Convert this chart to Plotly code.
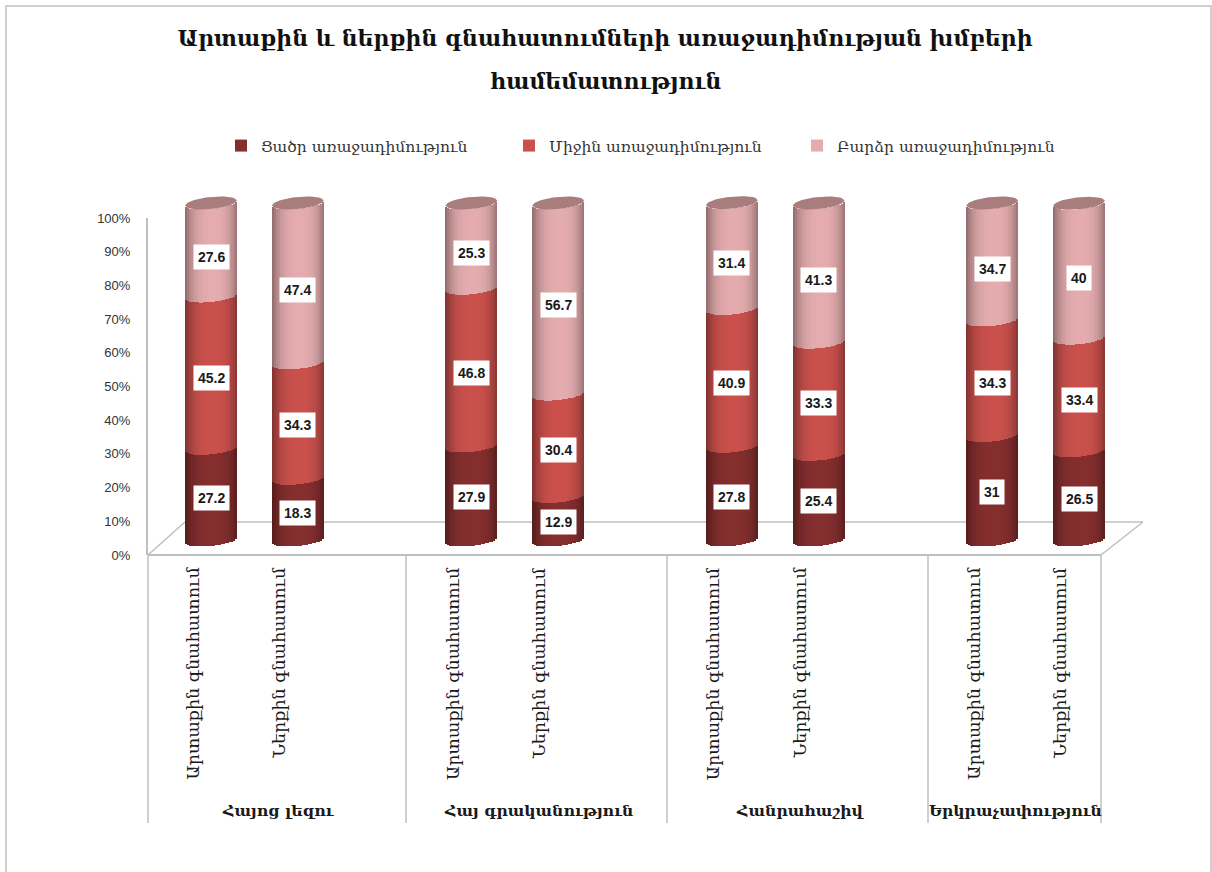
import math
import plotly.graph_objects as go

TITLE_1 = "Արտաքին և ներքին գնահատումների առաջադիմության խմբերի"
TITLE_2 = "համեմատություն"
SERIES = ["Ցածր առաջադիմություն", "Միջին առաջադիմություն", "Բարձր առաջադիմություն"]
GROUPS = ["Հայոց լեզու", "Հայ գրականություն", "Հանրահաշիվ", "Երկրաչափություն"]
ITEMS = ["Արտաքին գնահատում", "Ներքին գնահատում"]
low = [27.2, 18.3, 27.9, 12.9, 27.8, 25.4, 31, 26.5]
mid = [45.2, 34.3, 46.8, 30.4, 40.9, 33.3, 34.3, 33.4]
high = [27.6, 47.4, 25.3, 56.7, 31.4, 41.3, 34.7, 40]
COLORS = [(133, 46, 46), (202, 80, 76), (228, 172, 174)]
CAP = "#a97d7d"
GREY = "#bfbfbf"
FONT = "DejaVu Serif"

W, H = 1212, 872
L, R, T, B = 146, 1150, 190, 830      # plot-area pixels
Y0_PX = 555                           # pixel of 0 %
PX_Y = 3.37
PX_X = 86.8
X0 = 211
positions = [0, 1, 3, 4, 6, 7, 9, 10]
SHIFT = 15 / PX_Y
HALF = 26 / PX_X
NS = 26
A, TILT = 6 / PX_Y, 2.5 / PX_Y


def px(xp):
    return (xp - X0) / PX_X


def py(yp):
    return (Y0_PX - yp) / PX_Y


def lower(t):
    return TILT * t - A * math.sqrt(max(0, 1 - t * t))


def upper(t):
    return TILT * t + A * math.sqrt(max(0, 1 - t * t))


def shade(c, t):
    f = 1 - 0.34 * abs(t) ** 3.2 - (0.05 if t < 0 else 0) * abs(t)
    return "rgb(%d,%d,%d)" % tuple(round(v * f) for v in c)


def hline(x0, y0, x1, y1, width=1.5, color=GREY):
    return dict(type="line", xref="x", yref="y", layer="below", x0=x0, y0=y0, x1=x1, y1=y1,
                line=dict(color=color, width=width))


ts = sorted(((i + 0.5) / NS * 2 - 1 for i in range(NS)), key=abs)
fig = go.Figure()

# floor and axis furniture
back = py(522)
shapes = [
    hline(px(148), 0, px(1101), 0, 2),
    hline(px(148), 0, px(185), back),
    hline(px(185), back, px(1143), back),
    hline(px(1143), back, px(1101), 0),
    hline(px(147), 0, px(147), 100, 2),
]
for e in [148, 406, 667, 928, 1101]:
    shapes.append(hline(px(e), 0, px(e), py(823)))

# cylinders
cum = [0.0] * len(positions)
all_vals = [low, mid, high]
for name, vals, color in zip(SERIES, all_vals, COLORS):
    xs, bases, ys, cols = [], [], [], []
    for p, v, c in zip(positions, vals, cum):
        for t in ts:
            xs.append(p + t * HALF)
            bases.append(c + SHIFT + lower(t))
            ys.append(v)
            cols.append(shade(color, t))
    fig.add_trace(go.Bar(x=xs, y=ys, base=bases, width=2 * HALF / NS, name=name,
                         marker=dict(color=cols, line=dict(width=0)), hoverinfo="skip"))
    cum = [c + v for c, v in zip(cum, vals)]

# top caps
arc = [i / 20 * 2 - 1 for i in range(21)]
for p, c in zip(positions, cum):
    cx = [p + t * HALF for t in arc] + [p + t * HALF for t in reversed(arc)]
    cy = [c + SHIFT + lower(t) for t in arc] + [c + SHIFT + upper(t) for t in reversed(arc)]
    fig.add_trace(go.Scatter(x=cx, y=cy, mode="lines", fill="toself", fillcolor=CAP,
                             line=dict(width=0), showlegend=False, hoverinfo="skip"))

# data labels
annotations = []
cum = [0.0] * len(positions)
for vals in all_vals:
    for p, v, c in zip(positions, vals, cum):
        annotations.append(dict(x=p, y=(12 + (c + v / 2) * 3.32) / PX_Y, xref="x", yref="y",
                                text=str(v), showarrow=False, bgcolor="white", borderpad=4,
                                font=dict(family="Liberation Sans", size=14, color="#1a1a1a",
                                          weight="bold")))
    cum = [c + v for c, v in zip(cum, vals)]

# item labels (rotated)
for i, p in enumerate(positions):
    annotations.append(dict(x=p - 19 / PX_X, y=py(565), xref="x", yref="y", text=ITEMS[i % 2],
                            textangle=-90, showarrow=False, xanchor="center", yanchor="top",
                            font=dict(family=FONT, size=17.5, color="#1a1a1a")))

# group labels
for g, gx in zip(GROUPS, [278, 538, 800, 1015]):
    annotations.append(dict(x=px(gx), y=py(810), xref="x", yref="y", text=g, showarrow=False,
                            font=dict(family=FONT, size=15.7, color="#1a1a1a", weight="bold")))

# second title line
annotations.append(dict(x=(605 - L) / (R - L), y=(B - 81) / (B - T), xref="paper", yref="paper",
                        xanchor="center", yanchor="middle", text=TITLE_2, showarrow=False,
                        font=dict(family=FONT, size=22, color="#111111", weight="bold")))

# outer frame
shapes.append(dict(type="rect", xref="paper", yref="paper", layer="below",
                   x0=(6 - L) / (R - L), x1=(1211 - L) / (R - L),
                   y0=(B - 890) / (B - T), y1=(B - 6) / (B - T),
                   line=dict(color="#cfcfcf", width=2)))

fig.update_layout(
    width=W, height=H, autosize=False,
    margin=dict(l=L, r=W - R, t=T, b=H - B, pad=0),
    paper_bgcolor="white", plot_bgcolor="rgba(0,0,0,0)",
    barmode="overlay", bargap=0,
    title=dict(text=TITLE_1, x=605 / W, xanchor="center", y=1 - 38 / H, yanchor="middle",
               font=dict(family=FONT, size=22, color="#111111", weight="bold")),
    legend=dict(orientation="h", x=(221 - L) / (R - L), y=(B - 146) / (B - T), xanchor="left",
                yanchor="middle", entrywidth=243, entrywidthmode="pixels",
                font=dict(family=FONT, size=15.5, color="#333333"), traceorder="normal",
                bgcolor="rgba(0,0,0,0)"),
    xaxis=dict(range=[px(L), px(R)], visible=False),
    yaxis=dict(range=[py(B), py(T)], tickmode="array", tickvals=list(range(0, 101, 10)),
               ticktext=[f"{v}%" for v in range(0, 101, 10)], ticks="outside", ticklen=12,
               tickcolor="rgba(0,0,0,0)", showgrid=False, zeroline=False, showline=False,
               tickfont=dict(family="Liberation Sans", size=13, color="#333333")),
    annotations=annotations,
    shapes=shapes,
)
fig.write_html("out.html", config={"displayModeBar": False},
               post_script="document.body.style.margin='0';document.body.style.overflow='hidden';")
